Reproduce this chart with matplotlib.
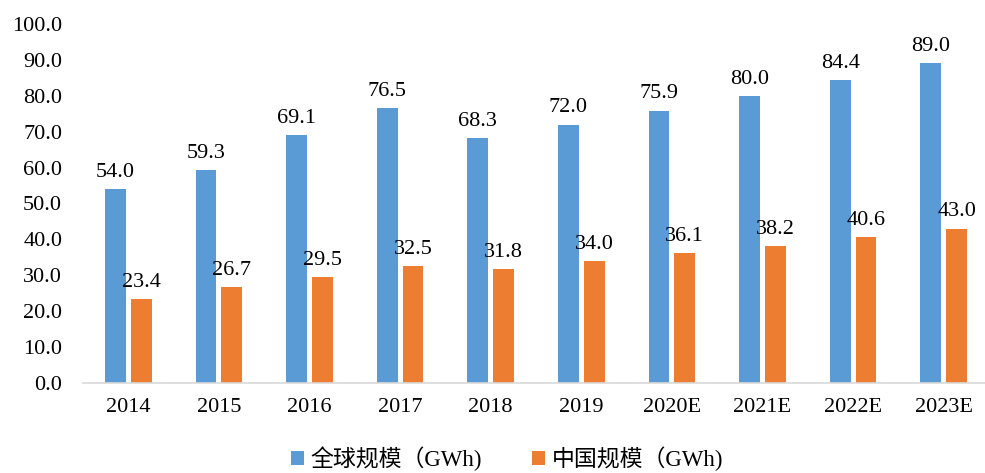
import matplotlib.pyplot as plt
import numpy as np

plt.rcParams['font.family'] = ['Liberation Serif', 'Noto Sans CJK SC']

years = ['2014', '2015', '2016', '2017', '2018', '2019', '2020E', '2021E', '2022E', '2023E']
global_scale = [54.0, 59.3, 69.1, 76.5, 68.3, 72.0, 75.9, 80.0, 84.4, 89.0]
china_scale = [23.4, 26.7, 29.5, 32.5, 31.8, 34.0, 36.1, 38.2, 40.6, 43.0]

fig = plt.figure(figsize=(9.85, 4.73), dpi=100)
ax = fig.add_axes([83 / 985, 90 / 473, 906 / 985, 359 / 473])

x = np.arange(len(years))
w = 0.23
b1 = ax.bar(x - 0.142, global_scale, w, color='#5B9BD5', label='全球规模（GWh)')
b2 = ax.bar(x + 0.142, china_scale, w, color='#ED7D31', label='中国规模（GWh)')

for bars in (b1, b2):
    for r in bars:
        ax.text(r.get_x() + r.get_width() / 2, r.get_height() + 2.0,
                '%.1f' % r.get_height(), ha='center', va='bottom', fontsize=16)

ax.set_xlim(-0.5, 9.5)
ax.set_ylim(0, 100)
ax.set_yticks(np.arange(0, 101, 10))
ax.set_yticklabels(['%.1f' % v for v in np.arange(0, 101, 10)])
ax.set_xticks(x)
ax.set_xticklabels(years)
ax.tick_params(axis='both', length=0, labelsize=16)
ax.tick_params(axis='y', pad=15)
ax.tick_params(axis='x', pad=11)
for s in ('top', 'right', 'left'):
    ax.spines[s].set_visible(False)
ax.spines['bottom'].set_color('#D9D9D9')
ax.spines['bottom'].set_linewidth(1.2)

fig.legend(loc='lower center', bbox_to_anchor=(0.515, -0.04), ncol=2, frameon=False,
           fontsize=16.5, handlelength=0.55, handleheight=0.55, handletextpad=0.3,
           columnspacing=2.2)

fig.savefig('out.png', dpi=100)
